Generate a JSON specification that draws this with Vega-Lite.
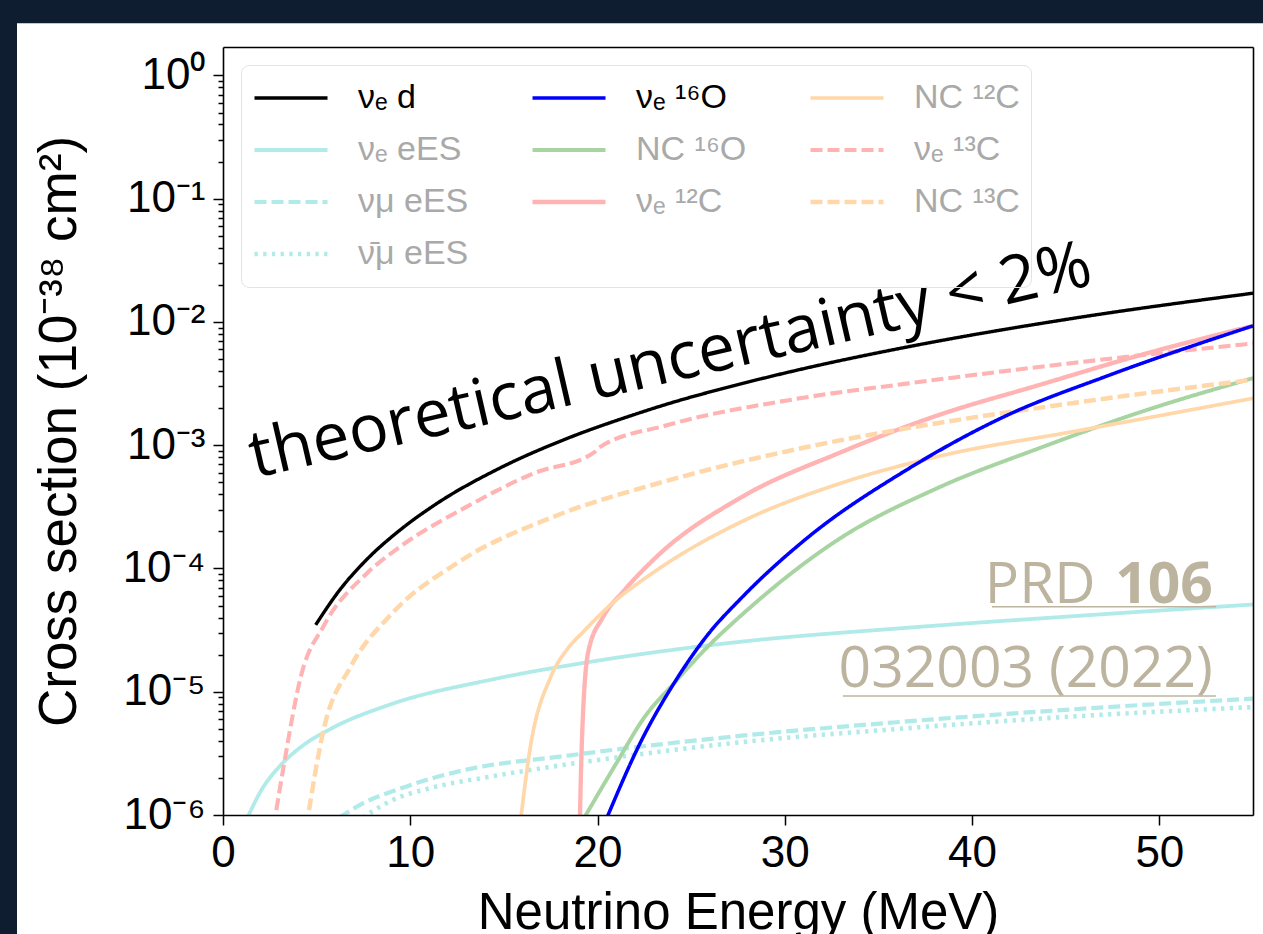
{
  "$schema": "https://vega.github.io/schema/vega-lite/v6.json",
  "width": 1030,
  "height": 768,
  "autosize": {"type": "none"},
  "padding": {"left": 223, "top": 47, "right": 10, "bottom": 119},
  "background": "#0e1d2f",
  "config": {
    "view": {"stroke": null, "fill": null},
    "font": "Liberation Sans",
    "axis": {"zindex": 1, "grid": false, "domainColor": "black", "domainWidth": 1.6, "tickColor": "black", "tickWidth": 1.5, "labelColor": "black", "titleColor": "black", "titleFontWeight": "normal", "labelFont": "Liberation Sans", "titleFont": "Liberation Sans", "labelOverlap": false, "labelFlush": false}
  },
  "datasets": {
    "curves": [
      {"s": "νₑ d", "E": 4.95, "v": 3.49e-5},
      {"s": "νₑ d", "E": 6.2, "v": 6.59e-5},
      {"s": "νₑ d", "E": 7.67, "v": 1.18e-4},
      {"s": "νₑ d", "E": 9.4, "v": 2.02e-4},
      {"s": "νₑ d", "E": 11.23, "v": 3.22e-4},
      {"s": "νₑ d", "E": 14.79, "v": 6.53e-4},
      {"s": "νₑ d", "E": 18.35, "v": 1.13e-3},
      {"s": "νₑ d", "E": 21.9, "v": 1.76e-3},
      {"s": "νₑ d", "E": 23.69, "v": 2.15e-3},
      {"s": "νₑ d", "E": 27.6, "v": 3.13e-3},
      {"s": "νₑ d", "E": 30.8, "v": 4.11e-3},
      {"s": "νₑ d", "E": 36.5, "v": 6.25e-3},
      {"s": "νₑ d", "E": 45.4, "v": 1.07e-2},
      {"s": "νₑ d", "E": 55.0, "v": 1.71e-2},

      {"s": "νₑ eES", "E": 1.3, "v": 9.5e-7},
      {"s": "νₑ eES", "E": 2.06, "v": 1.6e-6},
      {"s": "νₑ eES", "E": 3.04, "v": 2.5e-6},
      {"s": "νₑ eES", "E": 4.2, "v": 3.6e-6},
      {"s": "νₑ eES", "E": 5.75, "v": 5.0e-6},
      {"s": "νₑ eES", "E": 8.95, "v": 7.9e-6},
      {"s": "νₑ eES", "E": 14.29, "v": 1.25e-5},
      {"s": "νₑ eES", "E": 19.63, "v": 1.75e-5},
      {"s": "νₑ eES", "E": 27.7, "v": 2.55e-5},
      {"s": "νₑ eES", "E": 36.5, "v": 3.3e-5},
      {"s": "νₑ eES", "E": 45.4, "v": 4.1e-5},
      {"s": "νₑ eES", "E": 55.0, "v": 5.1e-5},

      {"s": "νμ eES", "E": 6.2, "v": 9.5e-7},
      {"s": "νμ eES", "E": 7.49, "v": 1.25e-6},
      {"s": "νμ eES", "E": 9.27, "v": 1.6e-6},
      {"s": "νμ eES", "E": 12.8, "v": 2.3e-6},
      {"s": "νμ eES", "E": 18.17, "v": 3.0e-6},
      {"s": "νμ eES", "E": 27.7, "v": 4.4e-6},
      {"s": "νμ eES", "E": 36.5, "v": 5.74e-6},
      {"s": "νμ eES", "E": 45.4, "v": 7.2e-6},
      {"s": "νμ eES", "E": 55.0, "v": 8.8e-6},

      {"s": "ν̄μ eES", "E": 7.45, "v": 9.5e-7},
      {"s": "ν̄μ eES", "E": 8.95, "v": 1.3e-6},
      {"s": "ν̄μ eES", "E": 11.05, "v": 1.65e-6},
      {"s": "ν̄μ eES", "E": 14.29, "v": 2.05e-6},
      {"s": "ν̄μ eES", "E": 19.63, "v": 2.74e-6},
      {"s": "ν̄μ eES", "E": 27.7, "v": 3.9e-6},
      {"s": "ν̄μ eES", "E": 36.5, "v": 5.05e-6},
      {"s": "ν̄μ eES", "E": 45.4, "v": 6.3e-6},
      {"s": "ν̄μ eES", "E": 55.0, "v": 7.5e-6},

      {"s": "NC ¹⁶O", "E": 19.2, "v": 9e-7},
      {"s": "NC ¹⁶O", "E": 21.05, "v": 2.7e-6},
      {"s": "NC ¹⁶O", "E": 22.5, "v": 6.2e-6},
      {"s": "NC ¹⁶O", "E": 24.08, "v": 1.17e-5},
      {"s": "NC ¹⁶O", "E": 25.86, "v": 2.3e-5},
      {"s": "NC ¹⁶O", "E": 27.7, "v": 4.2e-5},
      {"s": "NC ¹⁶O", "E": 32.94, "v": 1.75e-4},
      {"s": "NC ¹⁶O", "E": 38.28, "v": 4.58e-4},
      {"s": "NC ¹⁶O", "E": 43.62, "v": 9.5e-4},
      {"s": "NC ¹⁶O", "E": 48.96, "v": 1.85e-3},
      {"s": "NC ¹⁶O", "E": 55.0, "v": 3.5e-3},

      {"s": "νₑ ¹²C", "E": 19.05, "v": 8e-7},
      {"s": "νₑ ¹²C", "E": 19.15, "v": 3.4e-6},
      {"s": "νₑ ¹²C", "E": 19.5, "v": 2.1e-5},
      {"s": "νₑ ¹²C", "E": 20.3, "v": 4.05e-5},
      {"s": "νₑ ¹²C", "E": 21.41, "v": 6.6e-5},
      {"s": "νₑ ¹²C", "E": 23.19, "v": 1.26e-4},
      {"s": "νₑ ¹²C", "E": 27.7, "v": 3.8e-4},
      {"s": "νₑ ¹²C", "E": 32.94, "v": 8.7e-4},
      {"s": "νₑ ¹²C", "E": 38.28, "v": 1.77e-3},
      {"s": "νₑ ¹²C", "E": 43.62, "v": 3.09e-3},
      {"s": "νₑ ¹²C", "E": 48.96, "v": 5.37e-3},
      {"s": "νₑ ¹²C", "E": 55.0, "v": 9.3e-3},

      {"s": "NC ¹²C", "E": 15.85, "v": 8e-7},
      {"s": "NC ¹²C", "E": 16.39, "v": 3.4e-6},
      {"s": "NC ¹²C", "E": 17.5, "v": 1.32e-5},
      {"s": "NC ¹²C", "E": 18.35, "v": 2.18e-5},
      {"s": "NC ¹²C", "E": 19.27, "v": 3.1e-5},
      {"s": "NC ¹²C", "E": 20.52, "v": 4.8e-5},
      {"s": "NC ¹²C", "E": 23.19, "v": 9.75e-5},
      {"s": "NC ¹²C", "E": 27.7, "v": 2.4e-4},
      {"s": "NC ¹²C", "E": 32.94, "v": 4.89e-4},
      {"s": "NC ¹²C", "E": 38.28, "v": 8.17e-4},
      {"s": "NC ¹²C", "E": 45.4, "v": 1.29e-3},
      {"s": "NC ¹²C", "E": 55.0, "v": 2.4e-3},

      {"s": "νₑ ¹³C", "E": 2.7, "v": 8e-7},
      {"s": "νₑ ¹³C", "E": 3.27, "v": 2.65e-6},
      {"s": "νₑ ¹³C", "E": 4.15, "v": 1.32e-5},
      {"s": "νₑ ¹³C", "E": 5.39, "v": 3.45e-5},
      {"s": "νₑ ¹³C", "E": 7.67, "v": 9.1e-5},
      {"s": "νₑ ¹³C", "E": 9.45, "v": 1.5e-4},
      {"s": "νₑ ¹³C", "E": 13.0, "v": 3.16e-4},
      {"s": "νₑ ¹³C", "E": 16.57, "v": 5.9e-4},
      {"s": "νₑ ¹³C", "E": 19.8, "v": 8.7e-4},
      {"s": "νₑ ¹³C", "E": 20.1, "v": 9.6e-4},
      {"s": "νₑ ¹³C", "E": 23.69, "v": 1.45e-3},
      {"s": "νₑ ¹³C", "E": 30.8, "v": 2.4e-3},
      {"s": "νₑ ¹³C", "E": 36.5, "v": 3.16e-3},
      {"s": "νₑ ¹³C", "E": 45.4, "v": 4.65e-3},
      {"s": "νₑ ¹³C", "E": 55.0, "v": 6.7e-3},

      {"s": "NC ¹³C", "E": 4.45, "v": 8e-7},
      {"s": "NC ¹³C", "E": 5.39, "v": 5.05e-6},
      {"s": "NC ¹³C", "E": 6.82, "v": 1.6e-5},
      {"s": "NC ¹³C", "E": 8.95, "v": 4.2e-5},
      {"s": "NC ¹³C", "E": 12.51, "v": 1.11e-4},
      {"s": "NC ¹³C", "E": 17.85, "v": 2.7e-4},
      {"s": "NC ¹³C", "E": 23.19, "v": 4.89e-4},
      {"s": "NC ¹³C", "E": 30.8, "v": 9.4e-4},
      {"s": "NC ¹³C", "E": 36.5, "v": 1.37e-3},
      {"s": "NC ¹³C", "E": 45.4, "v": 2.2e-3},
      {"s": "NC ¹³C", "E": 55.0, "v": 3.4e-3},

      {"s": "νₑ ¹⁶O", "E": 20.5, "v": 9.5e-7},
      {"s": "νₑ ¹⁶O", "E": 22.3, "v": 3.9e-6},
      {"s": "νₑ ¹⁶O", "E": 24.08, "v": 1.17e-5},
      {"s": "νₑ ¹⁶O", "E": 25.86, "v": 2.87e-5},
      {"s": "νₑ ¹⁶O", "E": 27.7, "v": 5.8e-5},
      {"s": "νₑ ¹⁶O", "E": 31.16, "v": 1.75e-4},
      {"s": "νₑ ¹⁶O", "E": 36.5, "v": 6.3e-4},
      {"s": "νₑ ¹⁶O", "E": 41.84, "v": 1.74e-3},
      {"s": "νₑ ¹⁶O", "E": 47.18, "v": 3.63e-3},
      {"s": "νₑ ¹⁶O", "E": 55.0, "v": 9.3e-3}
    ]
  },
  "layer": [
    {
      "data": {"values": [{}]},
      "mark": {"type": "rect", "fill": "white", "clip": false},
      "encoding": {
        "x": {"datum": -11.0, "type": "quantitative", "scale": {"domain": [0, 55], "nice": false, "zero": false}, "axis": null},
        "x2": {"datum": 58},
        "y": {"datum": 2.65, "type": "quantitative", "scale": {"type": "log", "domain": [1e-6, 1.7], "nice": false}, "axis": null},
        "y2": {"datum": 1e-8}
      }
    },
    {
      "data": {"name": "curves"},
      "mark": {"type": "line", "clip": true, "interpolate": "monotone", "strokeCap": "butt"},
      "encoding": {
        "x": {"field": "E", "type": "quantitative", "scale": {"domain": [0, 55], "nice": false, "zero": false},
          "axis": {"orient": "bottom", "zindex": 2, "title": "Neutrino Energy (MeV)", "values": [0, 10, 20, 30, 40, 50], "labelFontSize": 44, "titleFontSize": 51, "tickSize": 10, "labelPadding": 6, "titlePadding": 13}},
        "y": {"field": "v", "type": "quantitative", "scale": {"type": "log", "domain": [1e-6, 1.7], "nice": false},
          "axis": {"orient": "left", "zindex": 2, "title": "Cross section (10⁻³⁸ cm²)", "titleFontSize": 53, "labelFontSize": 44, "labelPadding": 8, "titlePadding": 36,
            "values": [1e-6,2e-6,3e-6,4e-6,5e-6,6e-6,7e-6,8e-6,9e-6,1e-5,2e-5,3e-5,4e-5,5e-5,6e-5,7e-5,8e-5,9e-5,1e-4,2e-4,3e-4,4e-4,5e-4,6e-4,7e-4,8e-4,9e-4,1e-3,2e-3,3e-3,4e-3,5e-3,6e-3,7e-3,8e-3,9e-3,0.01,0.02,0.03,0.04,0.05,0.06,0.07,0.08,0.09,0.1,0.2,0.3,0.4,0.5,0.6,0.7,0.8,0.9,1],
            "labelExpr": "abs(log(datum.value)/LN10 - round(log(datum.value)/LN10)) < 0.01 ? ['10⁰','10⁻¹','10⁻²','10⁻³','10⁻⁴','10⁻⁵','10⁻⁶'][abs(round(log(datum.value)/LN10))] : ''",
            "tickSize": {"condition": {"test": "abs(log(datum.value)/LN10 - round(log(datum.value)/LN10)) < 0.01", "value": 10}, "value": 5}}},
        "color": {"field": "s", "type": "nominal",
          "scale": {"domain": ["νₑ d", "νₑ ¹⁶O", "NC ¹²C", "νₑ eES", "NC ¹⁶O", "νₑ ¹³C", "νμ eES", "νₑ ¹²C", "NC ¹³C", "ν̄μ eES"],
                    "range": ["#000000", "#0000ff", "#ffd7a8", "#b0ebe9", "#a8d4a2", "#ffb3b3", "#b0ebe9", "#ffb3b3", "#ffd7a8", "#b0ebe9"]},
          "legend": {"orient": "top-left", "offset": 18, "columns": 3, "direction": "horizontal", "title": null, "symbolType": "stroke", "symbolSize": 5329, "symbolStrokeWidth": 3.3,
            "clipHeight": 44,
            "labelFont": "Liberation Sans", "labelFontSize": 34, "labelOffset": 28, "columnPadding": 61, "rowPadding": 8, "padding": 11, "labelLimit": 400,
            "strokeColor": "#e3e3e3", "fillColor": "rgba(255,255,255,0)", "cornerRadius": 8,
            "encode": {"labels": {"update": {"fill": {"signal": "datum.label === 'νₑ d' || datum.label === 'νₑ ¹⁶O' ? '#000000' : '#a9a9a9'"}}}}}},
        "strokeDash": {"field": "s", "type": "nominal",
          "scale": {"domain": ["νₑ d", "νₑ ¹⁶O", "NC ¹²C", "νₑ eES", "NC ¹⁶O", "νₑ ¹³C", "νμ eES", "νₑ ¹²C", "NC ¹³C", "ν̄μ eES"],
                    "range": [[1, 0], [1, 0], [1, 0], [1, 0], [1, 0], [12, 5], [12, 5], [1, 0], [12, 5], [3.3, 5.4]]}},
        "strokeWidth": {"field": "s", "type": "nominal", "legend": null,
          "scale": {"domain": ["νₑ d", "νₑ ¹⁶O", "NC ¹²C", "νₑ eES", "NC ¹⁶O", "νₑ ¹³C", "νμ eES", "νₑ ¹²C", "NC ¹³C", "ν̄μ eES"],
                    "range": [3.4, 4.6, 3.3, 3.3, 3.3, 3.3, 3.3, 3.3, 3.3, 3.3]}}
      }
    },
    {
      "data": {"values": [{}]},
      "mark": {"type": "text", "text": "theoretical uncertainty < 2%", "font": "Open Sans", "fontSize": 66, "angle": 347, "align": "center", "baseline": "alphabetic", "color": "black", "clip": false},
      "encoding": {
        "x": {"datum": 24.13, "type": "quantitative", "scale": {"domain": [0, 55], "nice": false, "zero": false}, "axis": null},
        "y": {"datum": 3.31e-3, "type": "quantitative", "scale": {"type": "log", "domain": [1e-6, 1.7], "nice": false}, "axis": null}
      }
    },
    {
      "data": {"values": [{}]},
      "mark": {"type": "text", "text": "PRD", "font": "Open Sans", "fontSize": 57, "align": "right", "baseline": "alphabetic", "color": "#bcb49e", "clip": false},
      "encoding": {
        "x": {"datum": 46.6, "type": "quantitative", "scale": {"domain": [0, 55], "nice": false, "zero": false},
          "axis": {"orient": "top", "zindex": 2, "labels": false, "ticks": false, "title": null, "domain": true}},
        "y": {"datum": 5.21e-5, "type": "quantitative", "scale": {"type": "log", "domain": [1e-6, 1.7], "nice": false},
          "axis": {"orient": "right", "zindex": 2, "labels": false, "ticks": false, "title": null, "domain": true}}
      }
    },
    {
      "data": {"values": [{}]},
      "mark": {"type": "text", "text": "106", "font": "Open Sans", "fontWeight": "bold", "fontSize": 57, "align": "right", "baseline": "alphabetic", "color": "#bcb49e", "clip": false},
      "encoding": {
        "x": {"datum": 52.86, "type": "quantitative", "scale": {"domain": [0, 55], "nice": false, "zero": false}, "axis": null},
        "y": {"datum": 5.21e-5, "type": "quantitative", "scale": {"type": "log", "domain": [1e-6, 1.7], "nice": false}, "axis": null}
      }
    },
    {
      "data": {"values": [{}]},
      "mark": {"type": "text", "text": "032003 (2022)", "font": "Open Sans", "fontSize": 57, "align": "right", "baseline": "alphabetic", "color": "#bcb49e", "clip": false},
      "encoding": {
        "x": {"datum": 52.86, "type": "quantitative", "scale": {"domain": [0, 55], "nice": false, "zero": false}, "axis": null},
        "y": {"datum": 1.1e-5, "type": "quantitative", "scale": {"type": "log", "domain": [1e-6, 1.7], "nice": false}, "axis": null}
      }
    },
    {
      "data": {"values": [{}]},
      "mark": {"type": "rule", "color": "#bcb49e", "strokeWidth": 1.6, "clip": false},
      "encoding": {
        "x": {"datum": 41.06, "type": "quantitative", "scale": {"domain": [0, 55], "nice": false, "zero": false}, "axis": null},
        "x2": {"datum": 53.02},
        "y": {"datum": 4.89e-5, "type": "quantitative", "scale": {"type": "log", "domain": [1e-6, 1.7], "nice": false}, "axis": null}
      }
    },
    {
      "data": {"values": [{}]},
      "mark": {"type": "rule", "color": "#bcb49e", "strokeWidth": 1.6, "clip": false},
      "encoding": {
        "x": {"datum": 33.1, "type": "quantitative", "scale": {"domain": [0, 55], "nice": false, "zero": false}, "axis": null},
        "x2": {"datum": 53.02},
        "y": {"datum": 9.23e-6, "type": "quantitative", "scale": {"type": "log", "domain": [1e-6, 1.7], "nice": false}, "axis": null}
      }
    }
  ],
  "resolve": {"axis": {"x": "independent", "y": "independent"}}
}
